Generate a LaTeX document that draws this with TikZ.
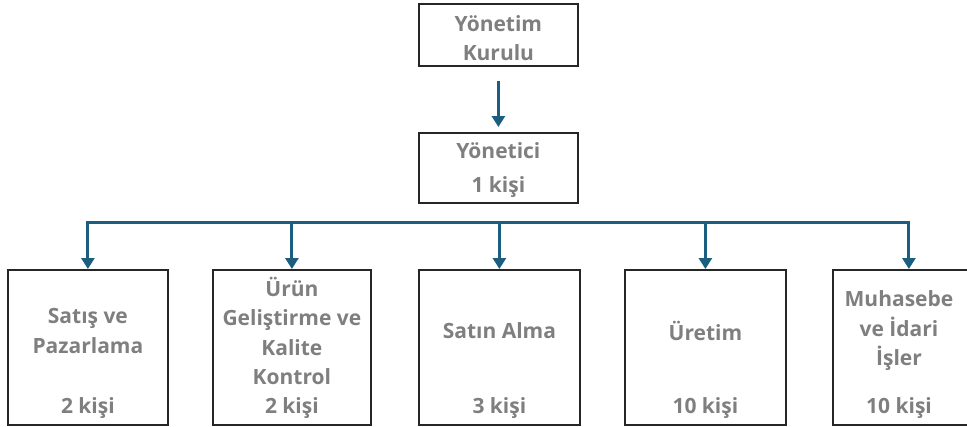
\documentclass[tikz,border=0pt]{standalone}
\usepackage{fontspec}
\setmainfont{Open Sans}
\usepackage{tikz}
\usetikzlibrary{arrows.meta,positioning,calc}

\definecolor{arrowblue}{HTML}{1B5E80}
\definecolor{textgray}{HTML}{7F7F7F}

\begin{document}
\begin{tikzpicture}[
    x=1pt, y=-1pt,
    >={Triangle[width=13pt,length=11pt]},
    box/.style={rectangle, draw=black!85, line width=1.8pt, anchor=north west, inner sep=0pt},
    lbl/.style={text=textgray, align=center, font=\bfseries\fontsize{21}{29.5}\selectfont},
    arrow/.style={->, draw=arrowblue, line width=3pt}
]
\useasboundingbox (0,0) rectangle (967,426);

% Board
\node[box, minimum width=159pt, minimum height=62pt] (kurul) at (418,3) {};
\node[lbl] (kurulT) at ($(kurul.center)+(0,3)$) {Yönetim\\Kurulu};

% Manager
\node[box, minimum width=159pt, minimum height=70pt] (yonetici) at (418,132) {};
\node[lbl, font=\bfseries\fontsize{21}{34}\selectfont] (yoneticiT) at ($(yonetici.center)+(0,2)$) {Yönetici\\1 kişi};

% Departments
\node[box, minimum width=160pt, minimum height=155pt] (satis) at (7,269) {};
\node[box, minimum width=158pt, minimum height=155pt] (urun) at (212,269) {};
\node[box, minimum width=161pt, minimum height=155pt] (satinalma) at (418,269) {};
\node[box, minimum width=161pt, minimum height=155pt] (uretim) at (624,269) {};
\node[box, minimum width=140pt, minimum height=155pt] (muhasebe) at (832,269) {};

% Department names
\node[lbl] (satisT) at (satis.center |- 0,331) {Satış ve\\Pazarlama};
\node[lbl] (urunT) at (urun.center |- 0,331) {Ürün\\Geliştirme ve\\Kalite\\Kontrol};
\node[lbl] (satinalmaT) at (satinalma.center |- 0,331) {Satın Alma};
\node[lbl] (uretimT) at (uretim.center |- 0,331) {Üretim};
\node[lbl] (muhasebeT) at (899,331) {Muhasebe\\ve İdari\\İşler};

% Head counts
\node[lbl] (satisN) at (satis.center |- 0,408) {2 kişi};
\node[lbl] (urunN) at (urun.center |- 0,408) {2 kişi};
\node[lbl] (satinalmaN) at (satinalma.center |- 0,408) {3 kişi};
\node[lbl] (uretimN) at (uretim.center |- 0,408) {10 kişi};
\node[lbl] (muhasebeN) at (899,408) {10 kişi};

% Arrows
\coordinate (bus) at (500,222);
\draw[arrow, shorten <=14pt, shorten >=5pt] (kurul) -- (yonetici);
\draw[arrow, <->] (satis.north) |- (bus) -| ([xshift=6pt]muhasebe.north);
\draw[arrow] (urun.north |- bus) -- (urun.north);
\draw[arrow] (satinalma.north |- bus) -- (satinalma.north);
\draw[arrow] (uretim.north |- bus) -- (uretim.north);

\end{tikzpicture}
\end{document}
